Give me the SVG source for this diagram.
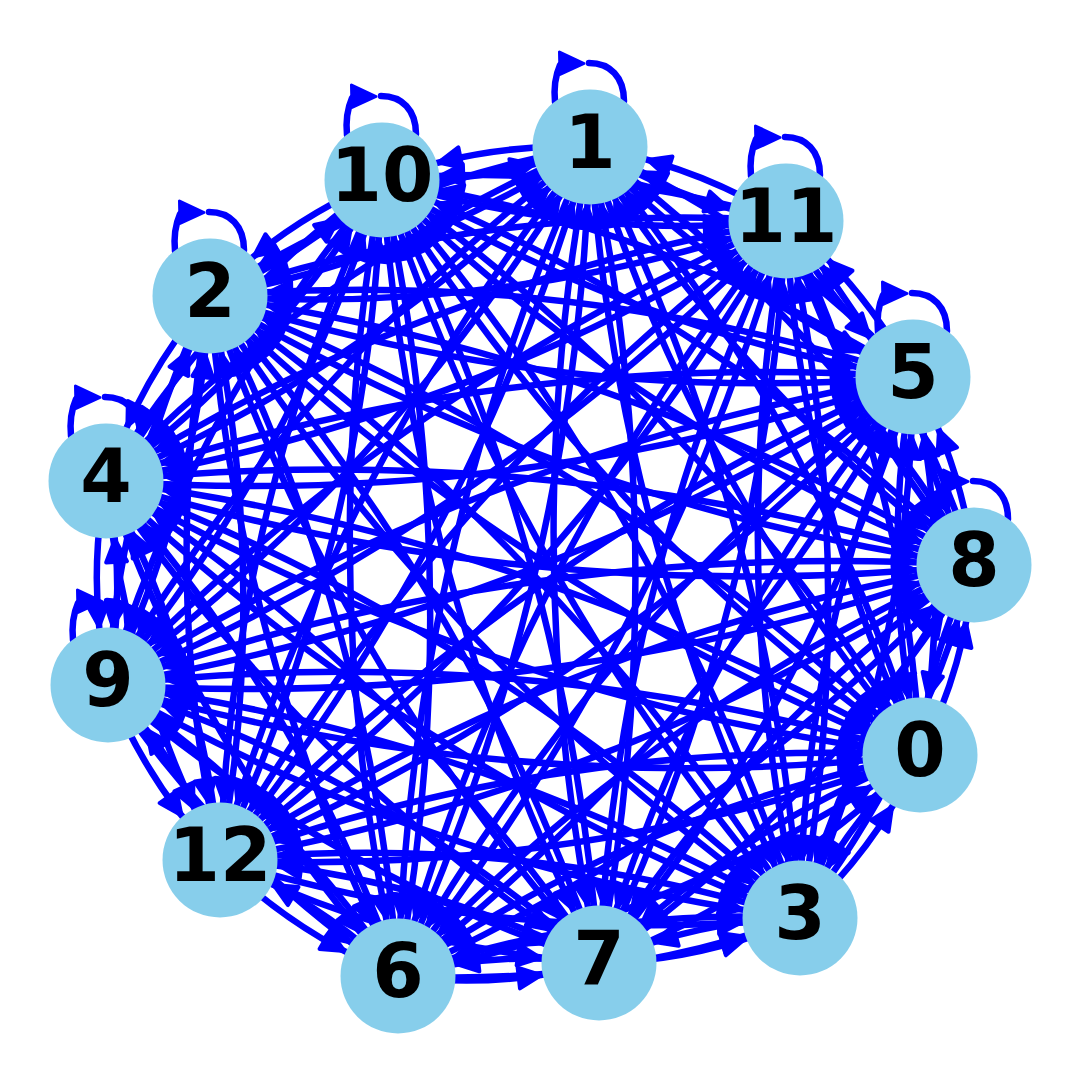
<svg xmlns="http://www.w3.org/2000/svg" width="1080" height="1080" viewBox="0 0 1080 1080">
<style>
.e{fill:none;stroke:#0000ff;stroke-width:6.5;marker-end:url(#al)}
.s{marker-end:url(#as)}
.lp{fill:none;stroke:#0000ff;stroke-width:6.5;stroke-linecap:round}
.lh{fill:#0000ff;stroke:#0000ff;stroke-width:3;stroke-linejoin:round}
.n{fill:#87ceeb}
.t{font-family:"DejaVu Sans","Liberation Sans",sans-serif;font-weight:bold;font-size:74px;text-anchor:middle;fill:#000}
</style>
<defs>
<marker id="al" markerUnits="userSpaceOnUse" orient="auto" refX="0" refY="0" markerWidth="1" markerHeight="1" style="overflow:visible"><path d="M-59,-1.2 L-82,8 L-80.8,-12.8 Z" fill="#0000ff" stroke="#0000ff" stroke-width="4" stroke-linejoin="round"/></marker>
<marker id="as" markerUnits="userSpaceOnUse" orient="auto" refX="0" refY="0" markerWidth="1" markerHeight="1" style="overflow:visible"><path d="M-59,-3.3 L-82.9,4 L-79.8,-16.6 Z" fill="#0000ff" stroke="#0000ff" stroke-width="4" stroke-linejoin="round"/></marker>
<g id="loop"><path class="lp" d="M-35,-45 Q-37,-66 -30,-82"/><path class="lp" d="M-1,-84 C20,-84 34,-70 34,-46"/><path class="lh" d="M-6,-83.5 L-30.5,-95 L-30,-72.5 Z"/></g>
</defs>
<rect width="1080" height="1080" fill="#fff"/>
<g id="edges">
<path class="e" d="M920,755 Q815.8,418 590,147"/><path class="e" d="M590,147 Q694.2,484 920,755"/>
<path class="e" d="M920,755 Q610.9,454.5 210,296"/><path class="e" d="M210,296 Q519.1,596.5 920,755"/>
<path class="e s" d="M920,755 Q843.7,824.5 800,918"/><path class="e s" d="M800,918 Q876.3,848.5 920,755"/>
<path class="e" d="M920,755 Q540.4,536.6 106,481"/><path class="e" d="M106,481 Q485.6,699.4 920,755"/>
<path class="e" d="M920,755 Q954.3,565.3 913,377"/><path class="e" d="M913,377 Q878.7,566.7 920,755"/>
<path class="e" d="M920,755 Q636.9,813.3 398,976"/><path class="e" d="M398,976 Q681.1,917.7 920,755"/>
<path class="e" d="M920,755 Q738.7,826.9 599,963"/><path class="e" d="M599,963 Q780.3,891.1 920,755"/>
<path class="e s" d="M920,755 Q966,665.4 974,565"/><path class="e s" d="M974,565 Q928,654.6 920,755"/>
<path class="e" d="M920,755 Q521,638.8 108,685"/><path class="e" d="M108,685 Q507,801.2 920,755"/>
<path class="e" d="M920,755 Q708.5,413.7 382,180"/><path class="e" d="M382,180 Q593.5,521.3 920,755"/>
<path class="e" d="M920,755 Q906.4,474.6 786,221"/><path class="e" d="M786,221 Q799.6,501.4 920,755"/>
<path class="e" d="M920,755 Q559.5,737.5 220,860"/><path class="e" d="M220,860 Q580.5,877.5 920,755"/>
<path class="e" d="M590,147 Q385.1,183.5 210,296"/><path class="e" d="M210,296 Q414.9,259.5 590,147"/>
<path class="e" d="M590,147 Q617.9,553.5 800,918"/><path class="e" d="M800,918 Q772.1,511.5 590,147"/>
<path class="e" d="M590,147 Q314.6,265.6 106,481"/><path class="e" d="M106,481 Q381.4,362.4 590,147"/>
<path class="e" d="M590,147 Q728.5,294.3 913,377"/><path class="e" d="M913,377 Q774.5,229.7 590,147"/>
<path class="e" d="M590,147 Q411.1,542.3 398,976"/><path class="e" d="M398,976 Q576.9,580.7 590,147"/>
<path class="e" d="M590,147 Q512.9,555.9 599,963"/><path class="e" d="M599,963 Q676.1,554.1 590,147"/>
<path class="e" d="M590,147 Q740.2,394.4 974,565"/><path class="e" d="M974,565 Q823.8,317.6 590,147"/>
<path class="e" d="M590,147 Q295.2,367.8 108,685"/><path class="e" d="M108,685 Q402.8,464.2 590,147"/>
<path class="e s" d="M590,147 Q482.7,142.7 382,180"/><path class="e s" d="M382,180 Q489.3,184.3 590,147"/>
<path class="e s" d="M590,147 Q680.6,203.6 786,221"/><path class="e s" d="M786,221 Q695.4,164.4 590,147"/>
<path class="e" d="M590,147 Q333.7,466.5 220,860"/><path class="e" d="M220,860 Q476.3,540.5 590,147"/>
<path class="e" d="M210,296 Q442.8,666 800,918"/><path class="e" d="M800,918 Q567.2,548 210,296"/>
<path class="e s" d="M210,296 Q139.5,378.1 106,481"/><path class="e s" d="M106,481 Q176.5,398.9 210,296"/>
<path class="e" d="M210,296 Q553.4,406.8 913,377"/><path class="e" d="M913,377 Q569.6,266.2 210,296"/>
<path class="e" d="M210,296 Q236,654.8 398,976"/><path class="e" d="M398,976 Q372,617.2 210,296"/>
<path class="e" d="M210,296 Q337.8,668.4 599,963"/><path class="e" d="M599,963 Q471.2,590.6 210,296"/>
<path class="e" d="M210,296 Q565.1,506.9 974,565"/><path class="e" d="M974,565 Q618.9,354.1 210,296"/>
<path class="e" d="M210,296 Q120.1,480.3 108,685"/><path class="e" d="M108,685 Q197.9,500.7 210,296"/>
<path class="e s" d="M210,296 Q307.6,255.2 382,180"/><path class="e s" d="M382,180 Q284.4,220.8 210,296"/>
<path class="e" d="M210,296 Q505.5,316.1 786,221"/><path class="e" d="M786,221 Q490.5,200.9 210,296"/>
<path class="e" d="M210,296 Q158.6,579 220,860"/><path class="e" d="M220,860 Q271.4,577 210,296"/>
<path class="e" d="M800,918 Q496.7,630.1 106,481"/><path class="e" d="M106,481 Q409.3,768.9 800,918"/>
<path class="e" d="M800,918 Q910.6,658.8 913,377"/><path class="e" d="M913,377 Q802.4,636.2 800,918"/>
<path class="e" d="M800,918 Q593.2,906.8 398,976"/><path class="e" d="M398,976 Q604.8,987.2 800,918"/>
<path class="e s" d="M800,918 Q695,920.4 599,963"/><path class="e s" d="M599,963 Q704,960.6 800,918"/>
<path class="e" d="M800,918 Q922.3,758.9 974,565"/><path class="e" d="M974,565 Q851.7,724.1 800,918"/>
<path class="e" d="M800,918 Q477.3,732.3 108,685"/><path class="e" d="M108,685 Q430.7,870.7 800,918"/>
<path class="e" d="M800,918 Q664.8,507.2 382,180"/><path class="e" d="M382,180 Q517.2,590.8 800,918"/>
<path class="e" d="M800,918 Q862.7,568.1 786,221"/><path class="e" d="M786,221 Q723.3,570.9 800,918"/>
<path class="e" d="M800,918 Q515.8,831 220,860"/><path class="e" d="M220,860 Q504.2,947 800,918"/>
<path class="e" d="M106,481 Q519.9,509.7 913,377"/><path class="e" d="M913,377 Q499.1,348.3 106,481"/>
<path class="e" d="M106,481 Q202.5,757.7 398,976"/><path class="e" d="M398,976 Q301.5,699.3 106,481"/>
<path class="e" d="M106,481 Q304.3,771.3 599,963"/><path class="e" d="M599,963 Q400.7,672.7 106,481"/>
<path class="e" d="M106,481 Q531.6,609.8 974,565"/><path class="e" d="M974,565 Q548.4,436.2 106,481"/>
<path class="e s" d="M106,481 Q86.6,583.2 108,685"/><path class="e s" d="M108,685 Q127.4,582.8 106,481"/>
<path class="e" d="M106,481 Q274.1,358.1 382,180"/><path class="e" d="M382,180 Q213.9,302.9 106,481"/>
<path class="e" d="M106,481 Q472,419 786,221"/><path class="e" d="M786,221 Q420,283 106,481"/>
<path class="e" d="M106,481 Q125.1,681.9 220,860"/><path class="e" d="M220,860 Q200.9,659.1 106,481"/>
<path class="e" d="M913,377 Q595.6,625 398,976"/><path class="e" d="M398,976 Q715.4,728 913,377"/>
<path class="e" d="M913,377 Q697.4,638.6 599,963"/><path class="e" d="M599,963 Q814.6,701.4 913,377"/>
<path class="e s" d="M913,377 Q924.7,477.1 974,565"/><path class="e s" d="M974,565 Q962.3,464.9 913,377"/>
<path class="e" d="M913,377 Q479.7,450.5 108,685"/><path class="e" d="M108,685 Q541.3,611.5 913,377"/>
<path class="e" d="M913,377 Q667.2,225.4 382,180"/><path class="e" d="M382,180 Q627.8,331.6 913,377"/>
<path class="e s" d="M913,377 Q865.1,286.3 786,221"/><path class="e s" d="M786,221 Q833.9,311.7 913,377"/>
<path class="e" d="M913,377 Q518.2,549.2 220,860"/><path class="e" d="M220,860 Q614.8,687.8 913,377"/>
<path class="e s" d="M398,976 Q499.8,989.6 599,963"/><path class="e s" d="M599,963 Q497.2,949.4 398,976"/>
<path class="e" d="M398,976 Q727.1,828.1 974,565"/><path class="e" d="M974,565 Q644.9,712.9 398,976"/>
<path class="e" d="M398,976 Q282.1,801.5 108,685"/><path class="e" d="M108,685 Q223.9,859.5 398,976"/>
<path class="e" d="M398,976 Q469.6,576.4 382,180"/><path class="e" d="M382,180 Q310.4,579.6 398,976"/>
<path class="e" d="M398,976 Q667.5,637.3 786,221"/><path class="e" d="M786,221 Q516.5,559.7 398,976"/>
<path class="e s" d="M398,976 Q320.6,900.2 220,860"/><path class="e s" d="M220,860 Q297.4,935.8 398,976"/>
<path class="e" d="M599,963 Q826.3,801.5 974,565"/><path class="e" d="M974,565 Q746.7,726.5 599,963"/>
<path class="e" d="M599,963 Q381.3,774.9 108,685"/><path class="e" d="M108,685 Q325.7,873.1 599,963"/>
<path class="e" d="M599,963 Q568.8,549.8 382,180"/><path class="e" d="M382,180 Q412.2,593.2 599,963"/>
<path class="e" d="M599,963 Q766.7,610.7 786,221"/><path class="e" d="M786,221 Q618.3,573.3 599,963"/>
<path class="e" d="M599,963 Q419.8,873.6 220,860"/><path class="e" d="M220,860 Q399.2,949.4 599,963"/>
<path class="e" d="M974,565 Q529,538.4 108,685"/><path class="e" d="M108,685 Q553,711.6 974,565"/>
<path class="e" d="M974,565 Q716.5,313.3 382,180"/><path class="e" d="M382,180 Q639.5,431.7 974,565"/>
<path class="e" d="M974,565 Q914.4,374.2 786,221"/><path class="e" d="M786,221 Q845.6,411.8 974,565"/>
<path class="e" d="M974,565 Q567.5,637.1 220,860"/><path class="e" d="M220,860 Q626.5,787.9 974,565"/>
<path class="e" d="M108,685 Q295.5,459.9 382,180"/><path class="e" d="M382,180 Q194.5,405.1 108,685"/>
<path class="e" d="M108,685 Q493.4,520.8 786,221"/><path class="e" d="M786,221 Q400.6,385.2 108,685"/>
<path class="e s" d="M108,685 Q146.5,783.7 220,860"/><path class="e s" d="M220,860 Q181.5,761.3 108,685"/>
<path class="e" d="M382,180 Q579.9,240.9 786,221"/><path class="e" d="M786,221 Q588.1,160.1 382,180"/>
<path class="e" d="M382,180 Q233,503.8 220,860"/><path class="e" d="M220,860 Q369,536.2 382,180"/>
<path class="e" d="M786,221 Q439.1,483.9 220,860"/><path class="e" d="M220,860 Q566.9,597.1 786,221"/>
</g>
<g id="self-loops">
<use href="#loop" transform="translate(590,147)"/>
<use href="#loop" transform="translate(382,180)"/>
<use href="#loop" transform="translate(786,221)"/>
<use href="#loop" transform="translate(210,296)"/>
<use href="#loop" transform="translate(913,377)"/>
<use href="#loop" transform="translate(106,481)"/>
<use href="#loop" transform="translate(974,565)"/>
<use href="#loop" transform="translate(108,685)"/>
</g>
<g id="node-0"><circle class="n" cx="920" cy="755" r="57.5"/><text class="t" x="920" y="776">0</text></g>
<g id="node-1"><circle class="n" cx="590" cy="147" r="57.5"/><text class="t" x="590" y="168">1</text></g>
<g id="node-2"><circle class="n" cx="210" cy="296" r="57.5"/><text class="t" x="210" y="317">2</text></g>
<g id="node-3"><circle class="n" cx="800" cy="918" r="57.5"/><text class="t" x="800" y="939">3</text></g>
<g id="node-4"><circle class="n" cx="106" cy="481" r="57.5"/><text class="t" x="106" y="502">4</text></g>
<g id="node-5"><circle class="n" cx="913" cy="377" r="57.5"/><text class="t" x="913" y="398">5</text></g>
<g id="node-6"><circle class="n" cx="398" cy="976" r="57.5"/><text class="t" x="398" y="997">6</text></g>
<g id="node-7"><circle class="n" cx="599" cy="963" r="57.5"/><text class="t" x="599" y="984">7</text></g>
<g id="node-8"><circle class="n" cx="974" cy="565" r="57.5"/><text class="t" x="974" y="586">8</text></g>
<g id="node-9"><circle class="n" cx="108" cy="685" r="57.5"/><text class="t" x="108" y="706">9</text></g>
<g id="node-10"><circle class="n" cx="382" cy="180" r="57.5"/><text class="t" x="382" y="201">10</text></g>
<g id="node-11"><circle class="n" cx="786" cy="221" r="57.5"/><text class="t" x="786" y="242">11</text></g>
<g id="node-12"><circle class="n" cx="220" cy="860" r="57.5"/><text class="t" x="220" y="881">12</text></g>
</svg>
